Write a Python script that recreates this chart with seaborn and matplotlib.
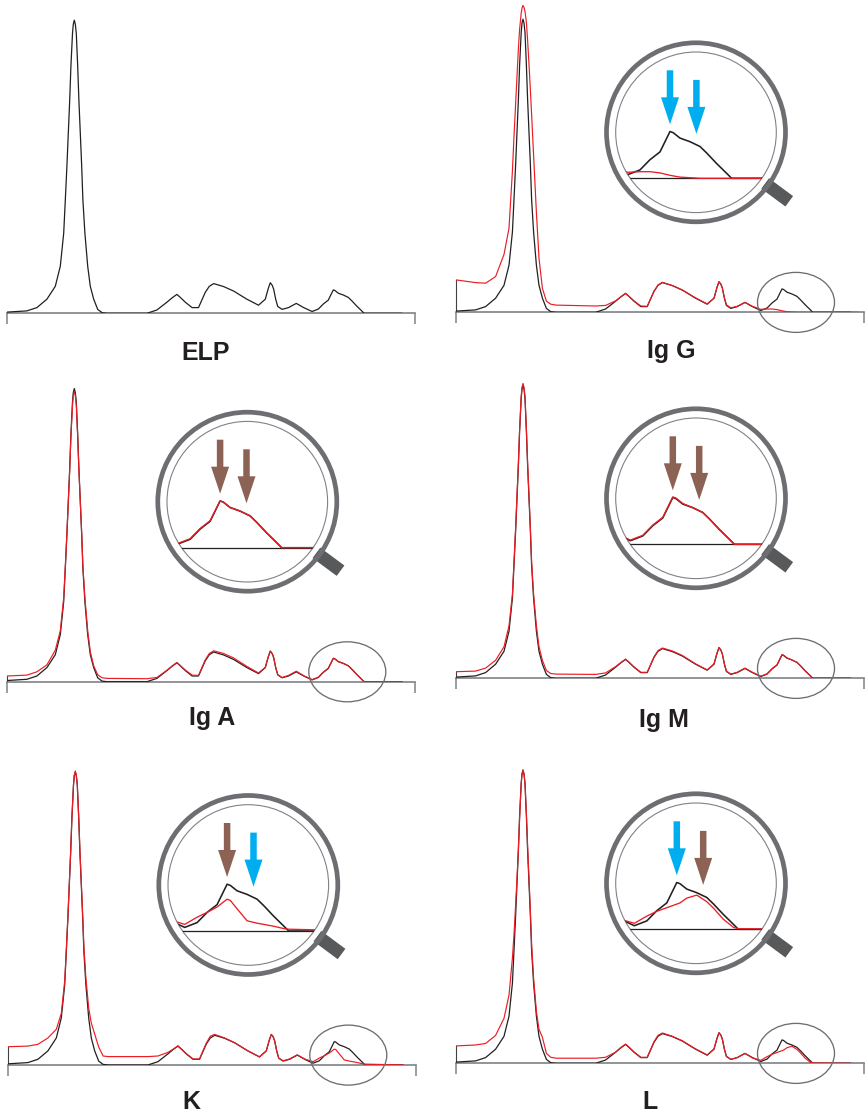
import matplotlib

matplotlib.use("Agg")
import matplotlib.pyplot as plt
import numpy as np
import pandas as pd
import seaborn as sns
from matplotlib.patches import Circle, Ellipse, FancyArrow

nan = np.nan

# densitometry traces: mobility (arbitrary units) vs optical density (% of albumin peak)
MOBILITY = [
    0.0, 4.9, 7.4, 9.9, 12.0, 13.25,
    14.1, 14.5, 14.9, 15.25, 15.6, 15.9, 16.3, 16.5, 16.75, 17.0,
    17.25, 17.6, 17.9, 18.25, 18.6, 18.9, 19.4, 20.1,
    20.75, 21.6, 22.6, 23.7, 25.0, 34.9,
    37.4, 39.9, 41.25, 42.4, 43.25, 44.5, 46.2, 47.8,
    49.5, 50.5, 51.6, 54.1, 56.6, 59.9, 62.8, 64.5,
    65.25, 65.75, 66.25, 66.6, 67.1, 67.6, 68.7, 70.3, 72.25, 74.1,
    76.2, 77.75, 79.0, 80.25, 81.5, 81.9, 82.75, 84.0, 85.25, 86.1, 87.3, 88.6, 89.2, 98.7, 100.5,
]

# ELP reference trace (black in every panel)
ELP = [
    0.4, 0.8, 1.9, 4.7, 9.0, 15.7,
    26.7, 37.7, 49.0, 60.0, 71.0, 82.3, 93.3, 96.4, 97.7, 96.4,
    93.3, 82.3, 71.0, 60.0, 49.0, 37.7, 26.7, 15.7,
    9.0, 4.7, 1.3, 0.2, 0.0, 0.0,
    1.1, 3.7, 5.2, 6.3, 5.3, 3.7, 1.9, 1.9,
    7.0, 9.0, 9.9, 8.9, 7.4, 4.7, 2.7, 4.7,
    8.3, 10.2, 9.3, 8.0, 4.7, 2.3, 1.3, 1.9, 3.3, 1.9,
    0.6, 1.4, 3.1, 4.4, 7.8, 7.6, 6.7, 6.1, 5.3, 4.2, 2.5, 0.8, 0.0, 0.0, nan,
]

# antiserum traces (red)
IGG = [
    10.8, 9.9, 9.7, 11.9, 19.3, 28.0,
    47.0, 58.7, 69.3, 78.7, 88.0, 94.3, 99.7, 101.4, 102.3, 101.6,
    100.3, 96.7, 90.7, 82.7, 74.0, 66.0, 52.3, 33.3,
    18.0, 8.0, 3.7, 2.7, 2.4, 2.1,
    2.3, 3.8, 5.2, 6.3, 5.3, 3.8, 2.1, 2.0,
    7.0, 9.1, 10.0, 8.9, 7.4, 4.8, 2.8, 4.7,
    8.3, 10.2, 9.3, 8.0, 4.8, 2.5, 1.5, 2.0, 3.3, 2.0,
    1.0, 1.1, 1.1, 0.9, 0.5, 0.4, 0.2, 0.1, 0.0, 0.0, 0.0, 0.0, 0.0, 0.0, 0.0,
]
IGA = [
    1.9, 2.2, 3.3, 5.6, 10.5, 17.0,
    28.0, 38.5, 49.5, 60.0, 70.5, 81.5, 92.0, 95.4, 96.7, 95.4,
    92.0, 81.5, 70.5, 60.0, 49.5, 38.5, 28.0, 17.0,
    10.0, 5.3, 2.3, 1.3, 1.1, 1.0,
    1.4, 3.8, 5.3, 6.4, 5.4, 3.9, 2.2, 2.1,
    7.3, 9.4, 10.3, 9.4, 7.9, 5.1, 2.9, 4.8,
    8.3, 10.2, 9.3, 8.0, 4.8, 2.4, 1.4, 2.1, 3.5, 2.0,
    0.7, 1.5, 3.2, 4.5, 7.8, 7.6, 6.7, 6.1, 5.3, 4.2, 2.5, 0.8, 0.0, 0.0, nan,
]
IGM = [
    2.2, 2.4, 3.4, 6.0, 10.5, 17.5,
    28.0, 39.0, 50.0, 61.0, 72.0, 83.0, 94.0, 97.0, 98.3, 97.0,
    94.0, 83.0, 72.0, 61.0, 50.0, 39.0, 28.0, 17.5,
    10.5, 6.0, 2.6, 1.6, 1.4, 1.3,
    1.8, 3.9, 5.3, 6.4, 5.4, 3.8, 2.0, 2.0,
    7.1, 9.2, 10.1, 9.1, 7.6, 4.8, 2.8, 4.8,
    8.4, 10.3, 9.4, 8.0, 4.8, 2.4, 1.4, 2.0, 3.4, 2.0,
    0.7, 1.5, 3.2, 4.5, 7.9, 7.7, 6.8, 6.1, 5.3, 4.2, 2.5, 0.8, 0.0, 0.0, nan,
]
KAPPA = [
    6.1, 6.3, 6.9, 9.0, 11.9, 17.2,
    28.0, 38.5, 49.5, 60.5, 71.5, 82.5, 93.5, 96.7, 98.0, 96.7,
    93.5, 83.0, 72.0, 61.0, 50.0, 39.5, 29.0, 19.0,
    14.0, 10.3, 6.0, 3.0, 2.8, 2.8,
    3.0, 4.2, 5.3, 6.4, 5.4, 3.8, 2.0, 2.0,
    7.3, 9.6, 10.2, 9.0, 7.4, 4.7, 2.7, 4.7,
    8.3, 10.2, 9.3, 8.0, 4.7, 2.3, 1.4, 2.0, 3.4, 2.0,
    1.1, 2.3, 3.1, 4.0, 5.3, 5.1, 3.7, 1.7, 1.3, 1.1, 0.8, 0.4, 0.3, 0.0, nan,
]
LAMBDA = [
    5.8, 6.1, 6.6, 9.3, 15.0, 22.7,
    35.0, 43.0, 52.7, 61.7, 71.7, 81.7, 93.3, 96.5, 97.8, 96.5,
    93.3, 83.3, 72.7, 61.7, 50.7, 40.0, 28.3, 17.3,
    11.3, 8.7, 3.3, 2.0, 1.7, 1.7,
    2.0, 3.7, 5.3, 6.4, 5.4, 3.8, 2.0, 2.0,
    7.2, 9.3, 10.1, 9.0, 7.5, 4.8, 2.8, 4.8,
    8.3, 10.2, 9.3, 8.0, 4.7, 2.3, 1.3, 1.9, 3.3, 1.8,
    1.0, 2.2, 3.0, 3.6, 4.2, 4.4, 5.2, 5.7, 4.6, 3.5, 1.7, 0.3, 0.1, 0.0, nan,
]

PANEL_NAMES = ["ELP", "Ig G", "Ig A", "Ig M", "K", "L"]
PANEL_TRACES = [None, IGG, IGA, IGM, KAPPA, LAMBDA]

# gamma-zone peak and shoulder marked in the magnified view
ARROW_X = (81.5, 84.8)
ARROW_TIP = (9.0, 7.4)
CYAN = "#00aeef"
BROWN = "#8c6255"
ARROW_COLORS = [None, (CYAN, CYAN), (BROWN, BROWN), (BROWN, BROWN), (BROWN, CYAN), (CYAN, BROWN)]

# layout (pixels of the 867x1113 canvas)
W_PX, H_PX = 867, 1113
PANEL_LEFT_PX = [7.3, 456, 7.3, 456, 8.3, 456]
PANEL_BASE_PX = [313.3, 312.3, 681.7, 678.3, 1065, 1063.3]
LABEL_X = [49.5, 53.9, 51.1, 52.0, 45.8, 48.5]
LABEL_DROP_PX = [46.7, 46.0, 43.3, 49.0, 44.0, 45.5]
INSET_XC = [None, 84.75, 84.9, 84.4, 84.15, 83.9]

PX_X, PX_Y = 4.0, 3.0          # pixels per data unit in the main panels
AX_W_PX, AX_H_PX = 408, 315
LENS_C = (60.0, 60.0)          # lens centre in data units
R_OUT, R_IN = 89.5, 80.3       # ring radii in px
MAG = 2.0

BLACK = "#231f20"
RED = "#ed1c24"
AXIS_GRAY = "#808285"
RING_GRAY = "#6d6e71"
HANDLE_GRAY = "#58595b"

sns.set_theme(style="ticks")
plt.rcParams["font.family"] = ["Liberation Sans", "DejaVu Sans"]


def fig_rect(x0, y0, w, h):
    return [x0 / W_PX, 1 - (y0 + h) / H_PX, w / W_PX, h / H_PX]


def draw_traces(ax, df, lw_black, lw_red):
    sns.lineplot(data=df, x="mobility", y="reference", color=BLACK, lw=lw_black,
                 estimator=None, sort=False, ax=ax, zorder=3)
    if "antiserum" in df:
        sns.lineplot(data=df, x="mobility", y="antiserum", color=RED, lw=lw_red,
                     estimator=None, sort=False, ax=ax, zorder=4)
    ax.set(xlabel="", ylabel="")


def draw_lens(fig, ax, df, left_px, base_px, xc, colors):
    cx, cy = LENS_C
    ring = dict(fill=False, clip_on=False)
    ang = np.deg2rad(36.5)
    r0, r1 = 86, 116
    ax.plot([cx + r0 * np.cos(ang) / PX_X, cx + r1 * np.cos(ang) / PX_X],
            [cy - r0 * np.sin(ang) / PX_Y, cy - r1 * np.sin(ang) / PX_Y],
            color=HANDLE_GRAY, lw=9.3, solid_capstyle="butt", clip_on=False, zorder=5)
    ax.add_patch(Ellipse((cx, cy), 2 * R_OUT / PX_X, 2 * R_OUT / PX_Y, ec=RING_GRAY,
                         lw=3.4, zorder=6, **ring))
    ax.add_patch(Ellipse((cx, cy), 2 * R_IN / PX_X, 2 * R_IN / PX_Y, ec=AXIS_GRAY,
                         lw=0.8, zorder=6, **ring))
    # small ellipse around the gamma zone
    ax.add_patch(Ellipse((85.0, 3.3), 77 / PX_X, 60 / PX_Y, ec=RING_GRAY,
                         lw=0.95, zorder=6, **ring))

    # magnified view
    cx_px = left_px + cx * PX_X
    cy_px = base_px - cy * PX_Y
    ins = fig.add_axes(fig_rect(cx_px - R_IN, cy_px - R_IN, 2 * R_IN, 2 * R_IN))
    ins.patch.set_alpha(0)
    sx, sy = PX_X * MAG, PX_Y * MAG
    yc = 46.0 / sy
    clip = Circle((0.5, 0.5), 0.5, transform=ins.transAxes)
    ins.axhline(0, color=BLACK, lw=0.9, zorder=2)
    draw_traces(ins, df, 1.15, 0.95)
    for line in ins.lines:
        line.set_clip_path(clip)
    ins.set_xlim(xc - R_IN / sx, xc + R_IN / sx)
    ins.set_ylim(yc - R_IN / sy, yc + R_IN / sy)
    ins.set_axis_off()
    for x, tip, col in zip(ARROW_X, ARROW_TIP, colors):
        ins.add_patch(FancyArrow(x, tip + 54 / sy, 0, -54 / sy, width=6.5 / sx,
                                 head_width=18 / sx, head_length=27 / sy,
                                 length_includes_head=True, color=col, lw=0,
                                 clip_on=False, zorder=6))


fig = plt.figure(figsize=(W_PX / 100, H_PX / 100), dpi=100)

for i, name in enumerate(PANEL_NAMES):
    left_px, base_px = PANEL_LEFT_PX[i], PANEL_BASE_PX[i]
    ax = fig.add_axes(fig_rect(left_px, base_px - AX_H_PX, AX_W_PX, AX_H_PX))
    ax.patch.set_alpha(0)
    df = pd.DataFrame({"mobility": MOBILITY, "reference": ELP})
    if PANEL_TRACES[i] is not None:
        df["antiserum"] = PANEL_TRACES[i]
    draw_traces(ax, df, 0.9, 0.85)

    ax.set_xlim(0, AX_W_PX / PX_X)
    ax.set_ylim(0, AX_H_PX / PX_Y)
    for side in ("top", "right"):
        ax.spines[side].set_visible(False)
    ax.spines["bottom"].set_color(AXIS_GRAY)
    ax.spines["bottom"].set_linewidth(1.2)
    start = df["antiserum"].iloc[0] if "antiserum" in df else df["reference"].iloc[0]
    ax.spines["left"].set_bounds(0, start)
    ax.spines["left"].set_color("#414042")
    ax.spines["left"].set_linewidth(0.8)
    ax.set_xticks([0, AX_W_PX / PX_X])
    ax.set_yticks([])
    ax.tick_params(axis="x", bottom=True, direction="out", length=8, width=1.1,
                   color=AXIS_GRAY, labelbottom=False)

    ax.text(LABEL_X[i], -LABEL_DROP_PX[i] / PX_Y, name, ha="center", va="baseline",
            fontsize=18, fontweight="bold", color=BLACK, clip_on=False)

    if PANEL_TRACES[i] is not None:
        draw_lens(fig, ax, df, left_px, base_px, INSET_XC[i], ARROW_COLORS[i])

fig.savefig("out.png", dpi=100)
